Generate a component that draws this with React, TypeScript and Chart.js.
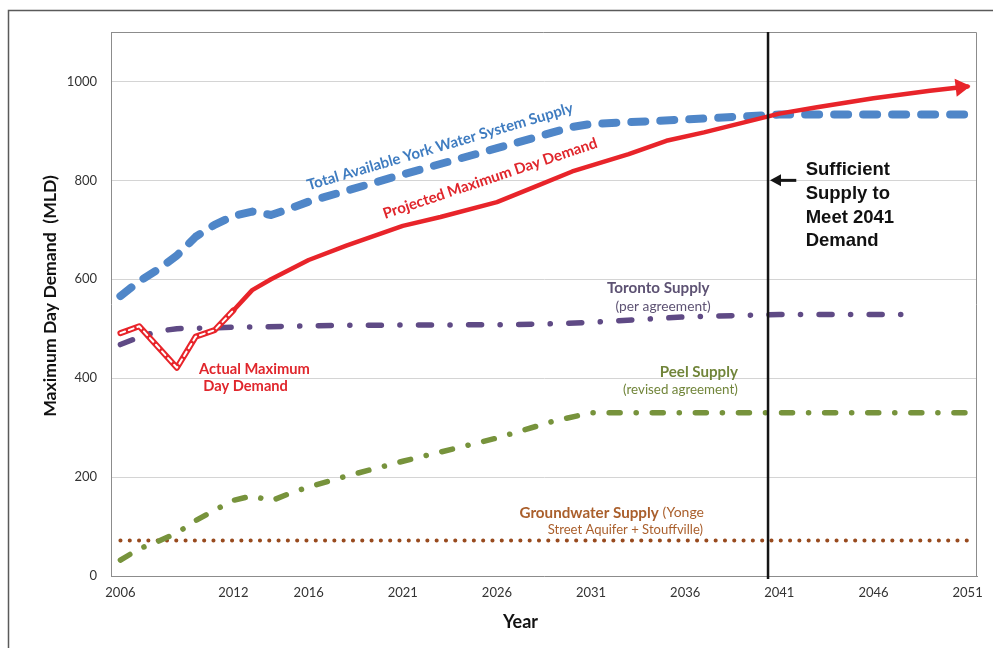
import React, { useEffect, useRef } from 'react';
import { Chart, registerables } from 'chart.js';

Chart.register(...registerables);

// ---- axis definitions ----
const xTickYears = [2006, 2012, 2016, 2021, 2026, 2031, 2036, 2041, 2046, 2051];
const yTickValues = [0, 200, 400, 600, 800, 1000];
const xMin = 2005.5;
const xMax = 2051.5;
const yMax = 1100;

// ---- series ----
const yorkYears = [2006, 2007, 2008, 2009, 2010, 2011, 2012, 2013, 2014, 2015, 2016, 2021, 2026, 2030, 2031, 2036, 2041, 2051];
const yorkSupply = [566, 596, 620, 648, 686, 710, 728, 737, 730, 743, 757, 812, 865, 908, 914, 923, 933, 933];

const actualYears = [2006, 2007, 2008, 2009, 2010, 2011, 2012];
const actualDemand = [491, 505, 463, 421, 484, 497, 537];

const projectedYears = [2012, 2013, 2014, 2016, 2018, 2021, 2023, 2026, 2028, 2030, 2033, 2035, 2037, 2041, 2043, 2046, 2049, 2051];
const projectedDemand = [537, 578, 600, 639, 668, 708, 726, 756, 787, 818, 853, 880, 897, 935, 948, 966, 981, 990];

const torontoYears = [2006, 2007, 2008, 2009, 2012, 2018, 2026, 2029, 2031, 2036, 2041, 2048];
const torontoSupply = [468, 483, 495, 500, 503, 507, 508, 510, 513, 524, 529, 529];

const peelYears = [2006, 2007, 2008, 2009, 2010, 2011, 2012, 2013, 2014, 2015, 2016, 2018, 2021, 2024, 2026, 2029, 2031, 2051];
const peelSupply = [32, 55, 70, 87, 112, 133, 153, 162, 152, 167, 180, 202, 232, 260, 279, 313, 330, 330];

const groundwaterYears = [2006, 2051];
const groundwaterSupply = [72, 72];

const sufficientYear = 2040.4;

const zip = (xs: number[], ys: number[]) => xs.map((x, i) => ({ x, y: ys[i] }));

const CAL = 'Lato, "Open Sans", sans-serif';
const ARIAL = '"Liberation Sans", Arial, sans-serif';

function fitFont(ctx: CanvasRenderingContext2D, text: string, width: number, weight: string, family: string) {
  ctx.font = `${weight} 20px ${family}`;
  const w = ctx.measureText(text).width;
  const size = (20 * width) / w;
  ctx.font = `${weight} ${size}px ${family}`;
  return size;
}

function textAlong(ctx: CanvasRenderingContext2D, text: string, x1: number, y1: number, x2: number, y2: number, weight: string, family: string, color: string) {
  const len = Math.hypot(x2 - x1, y2 - y1);
  const ang = Math.atan2(y2 - y1, x2 - x1);
  ctx.save();
  fitFont(ctx, text, len, weight, family);
  ctx.translate(x1, y1);
  ctx.rotate(ang);
  ctx.fillStyle = color;
  ctx.textAlign = 'left';
  ctx.textBaseline = 'alphabetic';
  ctx.fillText(text, 0, 0);
  ctx.restore();
}

function textFit(ctx: CanvasRenderingContext2D, text: string, left: number, right: number, yc: number, weight: string, family: string, color: string) {
  ctx.save();
  fitFont(ctx, text, right - left, weight, family);
  ctx.fillStyle = color;
  ctx.textAlign = 'left';
  ctx.textBaseline = 'middle';
  ctx.fillText(text, left, yc);
  ctx.restore();
}

const decorPlugin = {
  id: 'decor',
  beforeDraw(chart: any) {
    const { ctx, width, height } = chart;
    ctx.save();
    ctx.fillStyle = '#ffffff';
    ctx.fillRect(0, 0, width, height);
    ctx.strokeStyle = '#5a5a5a';
    ctx.lineWidth = 1.5;
    ctx.beginPath();
    ctx.moveTo(8.5, height);
    ctx.lineTo(8.5, 10.5);
    ctx.lineTo(width, 10.5);
    ctx.stroke();
    ctx.restore();
  },
  beforeDatasetsDraw(chart: any) {
    const { ctx, chartArea: a } = chart;
    ctx.save();
    ctx.strokeStyle = '#8c8c8c';
    ctx.lineWidth = 1;
    ctx.beginPath();
    ctx.moveTo(a.left, a.top + 0.5);
    ctx.lineTo(a.right - 0.5, a.top + 0.5);
    ctx.lineTo(a.right - 0.5, a.bottom);
    ctx.stroke();
    ctx.restore();
  },
  afterDatasetsDraw(chart: any) {
    const { ctx, chartArea: a } = chart;
    const xs = chart.scales.x;
    const ys = chart.scales.y;
    const X = (v: number) => xs.getPixelForValue(v);
    const Y = (v: number) => ys.getPixelForValue(v);

    // arrowhead on projected demand
    const meta = chart.getDatasetMeta(4);
    const pts = meta.data;
    if (pts.length > 1) {
      const p1 = pts[pts.length - 2];
      const p2 = pts[pts.length - 1];
      const ang = Math.atan2(p2.y - p1.y, p2.x - p1.x);
      const tx = p2.x + 3 * Math.cos(ang);
      const ty = p2.y + 3 * Math.sin(ang);
      const L = 15, H = 9;
      const bx = tx - L * Math.cos(ang);
      const by = ty - L * Math.sin(ang);
      ctx.save();
      ctx.fillStyle = '#e8242a';
      ctx.beginPath();
      ctx.moveTo(tx, ty);
      ctx.lineTo(bx + H * Math.sin(ang), by - H * Math.cos(ang));
      ctx.lineTo(bx - H * Math.sin(ang), by + H * Math.cos(ang));
      ctx.closePath();
      ctx.fill();
      ctx.restore();
    }

    // vertical 2041 line
    const vx = X(sufficientYear);
    ctx.save();
    ctx.strokeStyle = '#151515';
    ctx.lineWidth = 2.5;
    ctx.beginPath();
    ctx.moveTo(vx, a.top);
    ctx.lineTo(vx, a.bottom + 3);
    ctx.stroke();

    // black arrow pointing to line
    const ay = Y(800);
    const ax2 = X(2041.9);
    ctx.lineWidth = 3;
    ctx.beginPath();
    ctx.moveTo(ax2, ay);
    ctx.lineTo(vx + 10, ay);
    ctx.stroke();
    ctx.fillStyle = '#151515';
    ctx.beginPath();
    ctx.moveTo(vx + 2, ay);
    ctx.lineTo(vx + 13, ay - 6);
    ctx.lineTo(vx + 13, ay + 6);
    ctx.closePath();
    ctx.fill();
    ctx.restore();

    // sufficient supply text
    ctx.save();
    ctx.fillStyle = '#111111';
    ctx.font = `bold 18.5px ${ARIAL}`;
    ctx.textAlign = 'left';
    ctx.textBaseline = 'middle';
    const sl = X(2042.4);
    ctx.fillText('Sufficient', sl, Y(821));
    ctx.fillText('Supply to', sl, Y(772));
    ctx.fillText('Meet 2041', sl, Y(724));
    ctx.fillText('Demand', sl, Y(678));
    ctx.restore();

    // rotated series labels
    textAlong(ctx, 'Total Available York Water System Supply', X(2016.0), Y(780), X(2030.1), Y(938), 'bold', CAL, '#3f7cc0');
    textAlong(ctx, 'Projected Maximum Day Demand', X(2020.05), Y(722), X(2031.4), Y(867), 'bold', CAL, '#e0262c');

    // actual demand label
    textFit(ctx, 'Actual Maximum', X(2010.17), X(2016.07), Y(419), 'bold', CAL, '#e0262c');
    textFit(ctx, 'Day Demand', X(2010.4), X(2014.9), Y(383), 'bold', CAL, '#e0262c');

    // Toronto
    textFit(ctx, 'Toronto Supply', X(2031.85), X(2037.3), Y(582), 'bold', CAL, '#5d5273');
    textFit(ctx, '(per agreement)', X(2032.3), X(2037.35), Y(544), 'normal', CAL, '#5d5273');

    // Peel
    textFit(ctx, 'Peel Supply', X(2034.65), X(2038.8), Y(413), 'bold', CAL, '#71853a');
    textFit(ctx, '(revised agreement)', X(2032.7), X(2038.8), Y(377), 'normal', CAL, '#71853a');

    // Groundwater
    textFit(ctx, 'Groundwater Supply', X(2027.2), X(2034.6), Y(128), 'bold', CAL, '#aa5f2c');
    textFit(ctx, '(Yonge', X(2034.8), X(2037.0), Y(128), 'normal', CAL, '#aa5f2c');
    textFit(ctx, 'Street Aquifer + Stouffville)', X(2028.7), X(2036.95), Y(94), 'normal', CAL, '#aa5f2c');

    // axis titles
    ctx.save();
    ctx.fillStyle = '#111111';
    ctx.translate(50, 296);
    ctx.rotate(-Math.PI / 2);
    fitFont(ctx, 'Maximum Day Demand  (MLD)', 242, 'bold', CAL);
    ctx.textAlign = 'center';
    ctx.textBaseline = 'middle';
    ctx.fillText('Maximum Day Demand  (MLD)', 0, 0);
    ctx.restore();

    ctx.save();
    ctx.fillStyle = '#111111';
    ctx.font = `bold 18px ${CAL}`;
    ctx.textAlign = 'center';
    ctx.textBaseline = 'middle';
    ctx.fillText('Year', X(2027.25), 622);
    ctx.restore();
  },
};

export default function App() {
  const ref = useRef<HTMLCanvasElement | null>(null);

  useEffect(() => {
    if (!ref.current) return;
    const chart = new Chart(ref.current, {
      type: 'line',
      data: {
        datasets: [
          {
            label: 'Actual (inner)',
            data: zip(actualYears, actualDemand),
            borderColor: '#ffffff',
            borderWidth: 2,
            borderDash: [5, 4],
            order: 0,
          },
          {
            label: 'Actual Maximum Day Demand',
            data: zip(actualYears, actualDemand),
            borderColor: '#e8242a',
            borderWidth: 6,
            order: 1,
          },
          {
            label: 'Groundwater Supply',
            data: zip(groundwaterYears, groundwaterSupply),
            borderColor: '#984a1e',
            borderWidth: 4,
            borderDash: [0.1, 9.2],
            order: 6,
          },
          {
            label: 'Peel Supply',
            data: zip(peelYears, peelSupply),
            borderColor: '#77933c',
            borderWidth: 5.5,
            borderDash: [11, 16, 0.1, 16],
            order: 5,
          },
          {
            label: 'Projected Maximum Day Demand',
            data: zip(projectedYears, projectedDemand),
            borderColor: '#e8242a',
            borderWidth: 4.5,
            order: 2,
          },
          {
            label: 'Toronto Supply',
            data: zip(torontoYears, torontoSupply),
            borderColor: '#5f4a85',
            borderWidth: 5.5,
            borderDash: [13, 18.5, 0.1, 18.5],
            order: 4,
          },
          {
            label: 'Total Available York Water System Supply',
            data: zip(yorkYears, yorkSupply),
            borderColor: '#4f86c8',
            borderWidth: 8,
            borderDash: [14, 15],
            order: 3,
          },
        ].map((d) => ({
          ...d,
          pointRadius: 0,
          pointHoverRadius: 0,
          tension: 0,
          fill: false,
          borderCapStyle: 'round' as const,
          borderJoinStyle: 'round' as const,
        })),
      },
      options: {
        animation: false,
        responsive: false,
        devicePixelRatio: 1,
        layout: { padding: { left: 0, right: 16, top: 32, bottom: 0 } },
        plugins: {
          legend: { display: false },
          tooltip: { enabled: false },
          title: { display: false },
        },
        events: [],
        scales: {
          x: {
            type: 'linear',
            min: xMin,
            max: xMax,
            afterBuildTicks: (s: any) => {
              s.ticks = xTickYears.map((v) => ({ value: v }));
            },
            afterFit: (s: any) => {
              s.height = 72;
            },
            grid: { display: false, drawTicks: false },
            border: { display: true, color: '#8c8c8c', width: 1 },
            ticks: {
              autoSkip: false,
              maxRotation: 0,
              padding: 9,
              color: '#333333',
              font: { family: CAL, size: 13 },
              callback: (v: any) => String(v),
            },
          },
          y: {
            type: 'linear',
            min: 0,
            max: yMax,
            afterBuildTicks: (s: any) => {
              s.ticks = yTickValues.map((v) => ({ value: v }));
            },
            afterFit: (s: any) => {
              s.width = 111;
            },
            grid: { color: '#d4d4d4', lineWidth: 1, drawTicks: false },
            border: { display: true, color: '#8c8c8c', width: 1 },
            ticks: {
              padding: 14,
              color: '#333333',
              font: { family: CAL, size: 13 },
              callback: (v: any) => String(v),
            },
          },
        },
      },
      plugins: [decorPlugin],
    } as any);
    return () => chart.destroy();
  }, []);

  return (
    <div style={{ position: 'fixed', left: 0, top: 0, width: 993, height: 648 }}>
      <canvas ref={ref} width={993} height={648} style={{ display: 'block' }} />
    </div>
  );
}
